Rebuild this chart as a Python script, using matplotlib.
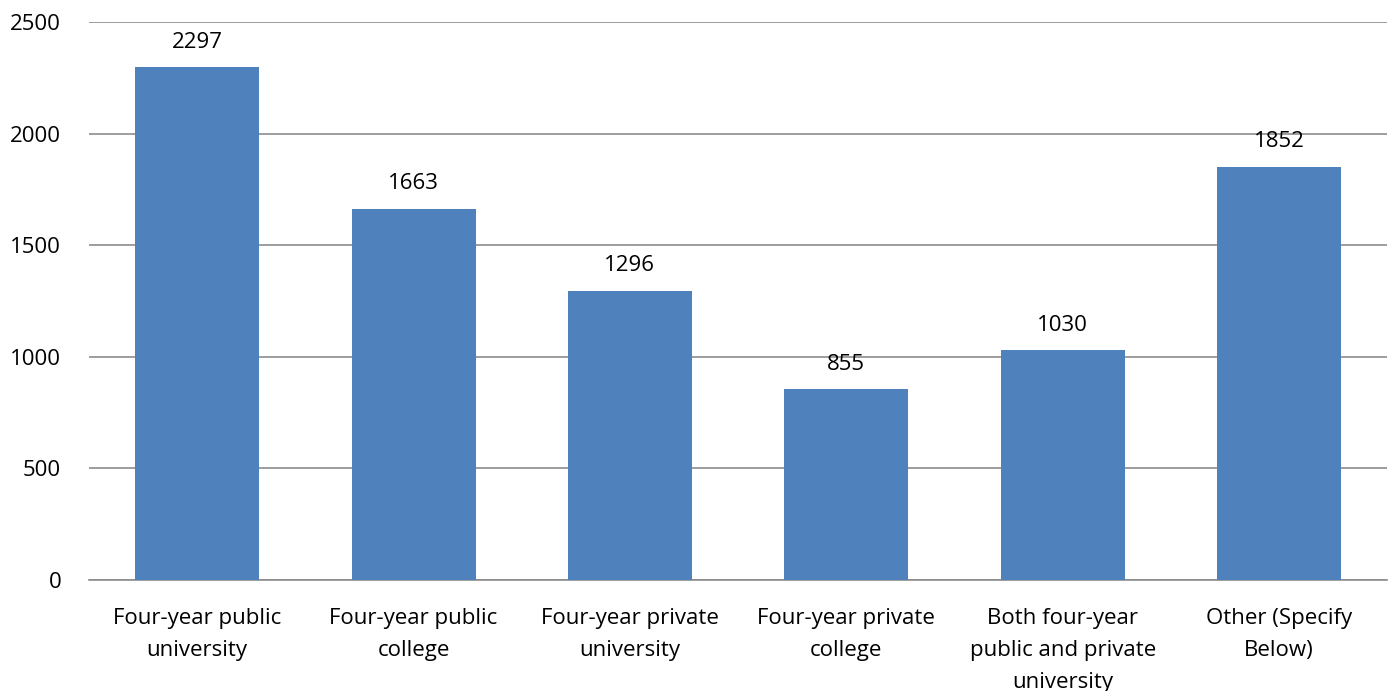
import matplotlib
matplotlib.use("Agg")
import matplotlib.pyplot as plt

categories = [
    "Four-year public\nuniversity",
    "Four-year public\ncollege",
    "Four-year private\nuniversity",
    "Four-year private\ncollege",
    "Both four-year\npublic and private\nuniversity",
    "Other (Specify\nBelow)",
]
counts = [2297, 1663, 1296, 855, 1030, 1852]
y_ticks = [0, 500, 1000, 1500, 2000, 2500]

plt.rcParams["font.family"] = ["Open Sans", "DejaVu Sans"]
FS = 16

fig = plt.figure(figsize=(13.9, 6.91), dpi=100)
ax = fig.add_axes([0.064, 0.1606, 0.934, 0.8074])

x = list(range(len(categories)))
bars = ax.bar(x, counts, width=0.573, color="#4F81BD", zorder=3)

for rect, v in zip(bars, counts):
    ax.annotate(f"{v}", (rect.get_x() + rect.get_width() / 2, v),
                xytext=(0, 18), textcoords="offset points",
                ha="center", va="center", fontsize=FS, color="black")

ax.set_xlim(-0.5, len(categories) - 0.5)
ax.set_ylim(0, 2500)
ax.set_yticks(y_ticks)
ax.set_yticklabels([str(t) for t in y_ticks], fontsize=FS)
ax.set_xticks(x)
ax.set_xticklabels(categories, fontsize=FS, linespacing=1.68)
ax.tick_params(axis="x", length=0, pad=20)
ax.tick_params(axis="y", length=0, pad=20)

ax.yaxis.grid(True, color="#8C8C8C", linewidth=1.2, zorder=0)
for side in ("left", "right", "top"):
    ax.spines[side].set_visible(False)
ax.spines["bottom"].set_color("#8C8C8C")
ax.spines["bottom"].set_linewidth(1.2)

fig.savefig("out.png", dpi=100)
